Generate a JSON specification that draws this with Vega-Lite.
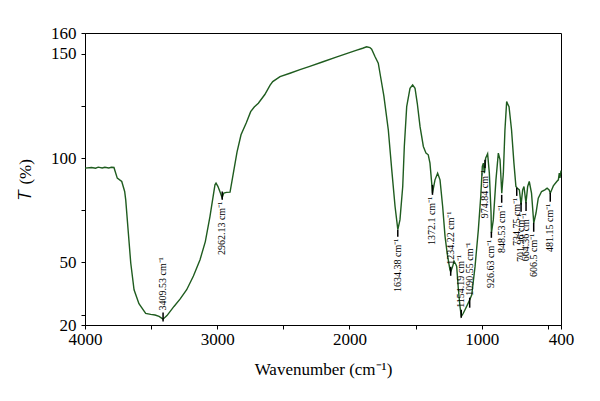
{
  "$schema": "https://vega.github.io/schema/vega-lite/v6.json",
  "width": 476,
  "height": 292,
  "autosize": "none",
  "padding": {"left": 85, "top": 33, "right": 39, "bottom": 76},
  "background": "white",
  "config": {
    "view": {"stroke": "black", "strokeWidth": 1},
    "font": "Liberation Serif",
    "axis": {
      "grid": false,
      "domainColor": "black",
      "tickColor": "black",
      "labelColor": "black",
      "titleColor": "black",
      "labelFont": "Liberation Serif",
      "titleFont": "Liberation Serif",
      "labelFontSize": 17,
      "titleFontSize": 17,
      "titleFontWeight": "normal",
      "tickSize": 4,
      "tickWidth": 1
    }
  },
  "datasets": {
    "spectrum": [
      {"wn": 4000, "T": 95.2}, {"wn": 3950, "T": 95.5}, {"wn": 3920, "T": 95.2}, {"wn": 3900, "T": 95.7},
      {"wn": 3870, "T": 95.3}, {"wn": 3850, "T": 95.6}, {"wn": 3820, "T": 95.3}, {"wn": 3800, "T": 95.6},
      {"wn": 3781, "T": 95.5}, {"wn": 3756, "T": 90.4}, {"wn": 3722, "T": 88.8}, {"wn": 3700, "T": 84},
      {"wn": 3692, "T": 80}, {"wn": 3672, "T": 64}, {"wn": 3654, "T": 49.7}, {"wn": 3629, "T": 36.9},
      {"wn": 3592, "T": 30.2}, {"wn": 3541, "T": 25.6}, {"wn": 3503, "T": 25.1}, {"wn": 3470, "T": 24.8},
      {"wn": 3440, "T": 24.1}, {"wn": 3410, "T": 22.8}, {"wn": 3380, "T": 24.5}, {"wn": 3327, "T": 28.9},
      {"wn": 3280, "T": 32.5}, {"wn": 3231, "T": 36.9}, {"wn": 3180, "T": 43.5}, {"wn": 3130, "T": 51.3},
      {"wn": 3090, "T": 60}, {"wn": 3055, "T": 72}, {"wn": 3030, "T": 82}, {"wn": 3017, "T": 87.2},
      {"wn": 3009, "T": 88.0}, {"wn": 2995, "T": 86.5}, {"wn": 2980, "T": 84}, {"wn": 2963, "T": 81},
      {"wn": 2950, "T": 83.3}, {"wn": 2930, "T": 83.6}, {"wn": 2903, "T": 83.7}, {"wn": 2878, "T": 92.8},
      {"wn": 2850, "T": 103}, {"wn": 2820, "T": 111.2}, {"wn": 2780, "T": 117}, {"wn": 2747, "T": 122.3},
      {"wn": 2720, "T": 124.5}, {"wn": 2689, "T": 126.3}, {"wn": 2640, "T": 130.5}, {"wn": 2600, "T": 135},
      {"wn": 2580, "T": 136.7}, {"wn": 2525, "T": 139.1}, {"wn": 2450, "T": 140.7}, {"wn": 2374, "T": 142.4},
      {"wn": 2300, "T": 144.0}, {"wn": 2200, "T": 146.2}, {"wn": 2100, "T": 148.4}, {"wn": 2000, "T": 150.6},
      {"wn": 1950, "T": 151.7}, {"wn": 1900, "T": 152.7}, {"wn": 1870, "T": 153.4}, {"wn": 1845, "T": 153.0},
      {"wn": 1832, "T": 152.2}, {"wn": 1807, "T": 148.7}, {"wn": 1782, "T": 145.5}, {"wn": 1769, "T": 140.7},
      {"wn": 1740, "T": 130}, {"wn": 1706, "T": 113.5}, {"wn": 1680, "T": 94.4}, {"wn": 1655, "T": 76.8},
      {"wn": 1634, "T": 65.7}, {"wn": 1618, "T": 70.4}, {"wn": 1597, "T": 86.4}, {"wn": 1585, "T": 105.6},
      {"wn": 1567, "T": 124.7}, {"wn": 1542, "T": 133.5}, {"wn": 1522, "T": 135.1}, {"wn": 1504, "T": 133.5},
      {"wn": 1487, "T": 126.3}, {"wn": 1466, "T": 115.1}, {"wn": 1441, "T": 105.6}, {"wn": 1421, "T": 102.4},
      {"wn": 1404, "T": 101.6}, {"wn": 1391, "T": 97.6}, {"wn": 1378, "T": 88.0}, {"wn": 1372, "T": 83.2},
      {"wn": 1353, "T": 89.6}, {"wn": 1333, "T": 92.8}, {"wn": 1315, "T": 89.6}, {"wn": 1295, "T": 76.8},
      {"wn": 1277, "T": 62.5}, {"wn": 1260, "T": 54}, {"wn": 1240, "T": 46.5}, {"wn": 1234, "T": 45.5},
      {"wn": 1220, "T": 48}, {"wn": 1209, "T": 50.5}, {"wn": 1195, "T": 49}, {"wn": 1189, "T": 48.1},
      {"wn": 1176, "T": 36.9}, {"wn": 1164, "T": 28.9}, {"wn": 1154, "T": 24.1}, {"wn": 1140, "T": 25.5},
      {"wn": 1126, "T": 27.3}, {"wn": 1101, "T": 30.6}, {"wn": 1090, "T": 32.1}, {"wn": 1075, "T": 34.5},
      {"wn": 1050, "T": 48.1}, {"wn": 1025, "T": 65.7}, {"wn": 1007, "T": 81.6}, {"wn": 995, "T": 96.0},
      {"wn": 987, "T": 97.6}, {"wn": 980, "T": 92.8}, {"wn": 975, "T": 95}, {"wn": 970, "T": 100},
      {"wn": 955, "T": 102.1}, {"wn": 942, "T": 92.8}, {"wn": 929, "T": 73.7}, {"wn": 926, "T": 64.1},
      {"wn": 912, "T": 70.4}, {"wn": 892, "T": 89.6}, {"wn": 874, "T": 102.4}, {"wn": 861, "T": 99.2},
      {"wn": 848, "T": 83.2}, {"wn": 836, "T": 92.8}, {"wn": 824, "T": 113.5}, {"wn": 811, "T": 127.1},
      {"wn": 800, "T": 125.5}, {"wn": 793, "T": 124.7}, {"wn": 774, "T": 113.5}, {"wn": 756, "T": 97.6},
      {"wn": 741, "T": 86.4}, {"wn": 730, "T": 85.6}, {"wn": 715, "T": 84.8}, {"wn": 702, "T": 77.7},
      {"wn": 690, "T": 84.8}, {"wn": 680, "T": 86.4}, {"wn": 665, "T": 78.4}, {"wn": 652, "T": 86.4},
      {"wn": 640, "T": 88.8}, {"wn": 623, "T": 83.2}, {"wn": 606, "T": 68.9}, {"wn": 589, "T": 73.7},
      {"wn": 572, "T": 80.8}, {"wn": 547, "T": 84.0}, {"wn": 522, "T": 84.8}, {"wn": 505, "T": 85.6},
      {"wn": 490, "T": 84.8}, {"wn": 481, "T": 83.2}, {"wn": 458, "T": 86.7}, {"wn": 432, "T": 88.8},
      {"wn": 420, "T": 89.6}, {"wn": 413, "T": 92.8}, {"wn": 408, "T": 90.5}, {"wn": 402, "T": 93},
      {"wn": 400, "T": 94}
    ],
    "peaks": [
      {"wn": 3409.53, "label": "3409.53 cm⁻¹", "tickTop": 26.0, "tickBottom": 21.7, "side": "above"},
      {"wn": 2962.13, "label": "2962.13 cm⁻¹", "tickTop": 84.0, "tickBottom": 80.0, "side": "below"},
      {"wn": 1634.38, "label": "1634.38 cm⁻¹", "tickTop": 65.7, "tickBottom": 62.3, "side": "below"},
      {"wn": 1372.1, "label": "1372.1 cm⁻¹", "tickTop": 87.2, "tickBottom": 82.4, "side": "below"},
      {"wn": 1234.22, "label": "1234.22 cm⁻¹", "tickTop": 47.9, "tickBottom": 43.6, "side": "above"},
      {"wn": 1154.19, "label": "1154.19 cm⁻¹", "tickTop": 27.3, "tickBottom": 23.5, "side": "above"},
      {"wn": 1090.55, "label": "1090.55 cm⁻¹", "tickTop": 33.1, "tickBottom": 28.3, "side": "above"},
      {"wn": 974.84, "label": "974.84 cm⁻¹", "tickTop": 99.2, "tickBottom": 95.3, "side": "below"},
      {"wn": 926.63, "label": "926.63 cm⁻¹", "tickTop": 64.7, "tickBottom": 61.8, "side": "below"},
      {"wn": 848.53, "label": "848.53 cm⁻¹", "tickTop": 82.4, "tickBottom": 78.6, "side": "below"},
      {"wn": 734.75, "label": "734.75 cm⁻¹", "tickTop": 85.8, "tickBottom": 81.9, "side": "below"},
      {"wn": 701.96, "label": "701.96 cm⁻¹", "tickTop": 78.6, "tickBottom": 74.3, "side": "below"},
      {"wn": 664.36, "label": "664.36 cm⁻¹", "tickTop": 78.9, "tickBottom": 74.6, "side": "below"},
      {"wn": 606.5, "label": "606.5 cm⁻¹", "tickTop": 69.0, "tickBottom": 64.7, "side": "below"},
      {"wn": 481.15, "label": "481.15 cm⁻¹", "tickTop": 83.4, "tickBottom": 79.1, "side": "below"}
    ]
  },
  "layer": [
    {
      "data": {"name": "spectrum"},
      "mark": {"type": "line", "color": "#1f5c1f", "strokeWidth": 1.4, "interpolate": "linear"},
      "encoding": {
        "x": {
          "field": "wn", "type": "quantitative",
          "scale": {"domain": [400, 4000], "reverse": true, "nice": false, "zero": false},
          "axis": {
            "title": "Wavenumber (cm⁻¹)",
            "format": "d",
            "values": [4000, 3500, 3000, 2500, 2000, 1500, 1000, 500, 400],
            "labelExpr": "(datum.value % 1000 === 0 || datum.value === 400) ? datum.label : ''",
            "labelPadding": 2,
            "labelFlush": false,
            "labelOverlap": false,
            "titlePadding": 14,
            "encode": {"ticks": {"update": {"y2": {"value": -4}}}}
          }
        },
        "y": {
          "field": "T", "type": "quantitative",
          "scale": {"domain": [20, 160], "nice": false, "zero": false},
          "axis": {
            "title": "𝑇 (%)",
            "values": [20, 25, 50, 75, 100, 125, 150, 160],
            "labelExpr": "(datum.value === 25 || datum.value === 75 || datum.value === 125) ? '' : datum.label",
            "labelPadding": 5,
            "labelOverlap": false,
            "titlePadding": 16,
            "encode": {"ticks": {"update": {"x2": {"value": 4}}}}
          }
        }
      }
    },
    {
      "data": {"name": "peaks"},
      "mark": {"type": "rule", "color": "black", "strokeWidth": 1.5},
      "encoding": {
        "x": {"field": "wn", "type": "quantitative"},
        "y": {"field": "tickTop", "type": "quantitative"},
        "y2": {"field": "tickBottom"}
      }
    },
    {
      "data": {"name": "peaks"},
      "transform": [{"filter": "datum.side === 'below'"}],
      "mark": {"type": "text", "angle": 270, "align": "right", "baseline": "middle", "dx": -2, "fontSize": 10, "font": "Liberation Serif", "color": "black"},
      "encoding": {
        "x": {"field": "wn", "type": "quantitative"},
        "y": {"field": "tickBottom", "type": "quantitative"},
        "text": {"field": "label"}
      }
    },
    {
      "data": {"name": "peaks"},
      "transform": [{"filter": "datum.side === 'above'"}],
      "mark": {"type": "text", "angle": 270, "align": "left", "baseline": "middle", "dx": 2, "fontSize": 10, "font": "Liberation Serif", "color": "black"},
      "encoding": {
        "x": {"field": "wn", "type": "quantitative"},
        "y": {"field": "tickTop", "type": "quantitative"},
        "text": {"field": "label"}
      }
    }
  ]
}
